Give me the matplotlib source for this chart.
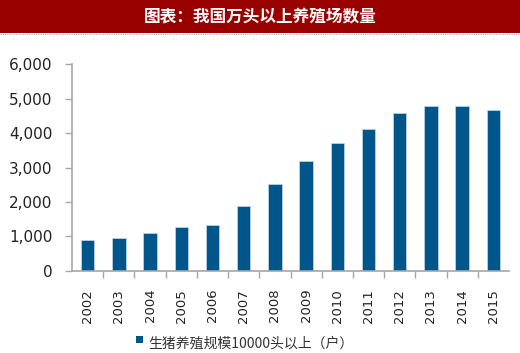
import numpy as np
import matplotlib.pyplot as plt
from matplotlib.patches import Rectangle
from matplotlib.ticker import FuncFormatter, FixedLocator

plt.rcParams['font.family'] = ['Noto Sans CJK SC', 'DejaVu Sans']

years = ["2002", "2003", "2004", "2005", "2006", "2007", "2008",
         "2009", "2010", "2011", "2012", "2013", "2014", "2015"]
farms = [890, 950, 1100, 1280, 1320, 1870, 2520,
         3190, 3710, 4120, 4590, 4790, 4790, 4680]
series_name = "生猪养殖规模10000头以上（户）"
title = "图表：我国万头以上养殖场数量"

bar_color = "#00558A"
axis_color = "#A6A6A6"

fig = plt.figure(figsize=(5.2, 3.53), dpi=100)

# title banner
fig.patches.append(Rectangle((0, 1 - 33 / 353), 1, 33 / 353, transform=fig.transFigure,
                             facecolor="#990000", edgecolor="none", zorder=0))
fig.add_artist(plt.Line2D([0, 1], [1 - 34 / 353] * 2, transform=fig.transFigure,
                          color="#B8A8D0", lw=0.8, linestyle=(0, (1, 1))))
fig.text(0.5, 1 - 16 / 353, title, color="white", fontsize=12, fontweight="bold",
         ha="center", va="center")

ax = fig.add_axes([72 / 520, 1 - 270.7 / 353, (509 - 72) / 520, (270.7 - 64.3) / 353])
x = np.arange(len(years))
ax.bar(x, farms, width=0.43, color=bar_color, edgecolor="#C8D8E8", linewidth=0.5)

ax.set_xlim(-0.5, len(years) - 0.5)
ax.set_ylim(0, 6000)
ax.set_yticks(np.arange(0, 6001, 1000))
ax.yaxis.set_major_formatter(FuncFormatter(lambda v, p: f"{int(v):,}"))
ax.tick_params(axis="y", labelsize=11, color=axis_color, length=5, width=1,
               labelcolor="#222222", pad=9)
for lbl in ax.get_yticklabels():
    lbl.set_family("DejaVu Sans")

ax.set_xticks(x)
ax.set_xticklabels(years, rotation=90, fontsize=9.5, family="DejaVu Sans", color="#222222")
ax.tick_params(axis="x", which="major", length=0, pad=13)
ax.xaxis.set_minor_locator(FixedLocator(np.arange(0.5, len(years) - 0.5, 1)))
ax.tick_params(axis="x", which="minor", length=5, width=1, color=axis_color)

for side in ["top", "right"]:
    ax.spines[side].set_visible(False)
for side in ["left", "bottom"]:
    ax.spines[side].set_color(axis_color)
    ax.spines[side].set_linewidth(1.2)

# legend
fig.patches.append(Rectangle((136 / 520, 1 - 343 / 353), 7 / 520, 7 / 353,
                             transform=fig.transFigure, facecolor=bar_color, edgecolor="none"))
fig.text(148 / 520, 1 - 344 / 353, series_name, fontsize=10, color="#333333",
         ha="left", va="center")

fig.savefig("out.png", dpi=100)
